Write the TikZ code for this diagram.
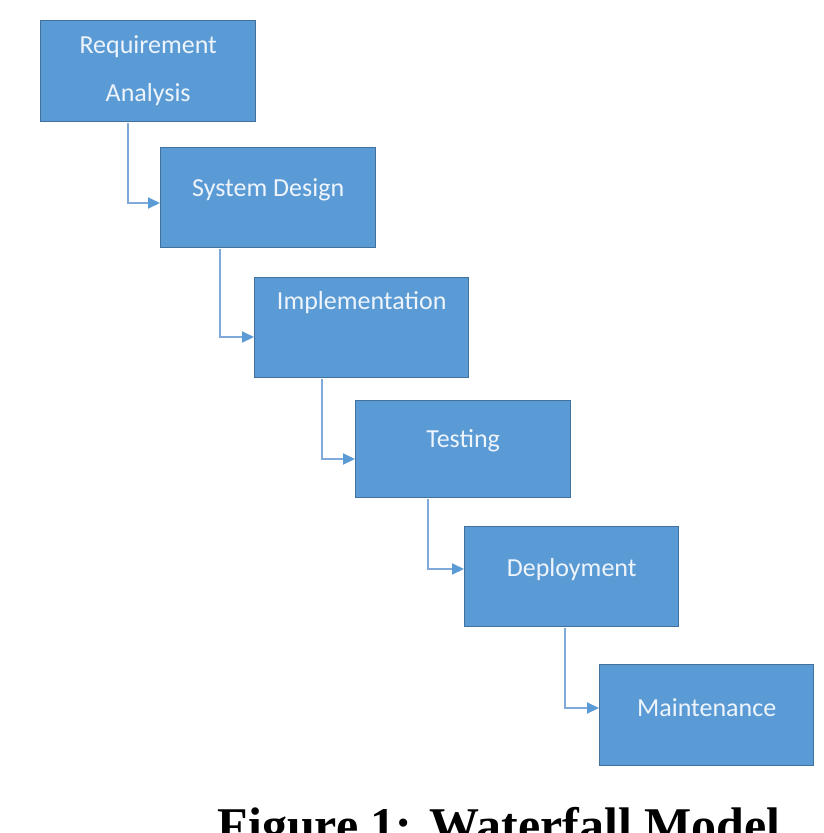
\documentclass[tikz,border=0pt]{standalone}
\usepackage{fontspec}
\setmainfont{Carlito}
\newfontfamily\capfont{Liberation Serif}
\usetikzlibrary{arrows.meta,calc}
\definecolor{boxfill}{HTML}{5B9BD5}
\definecolor{boxline}{HTML}{41719C}
\definecolor{connline}{HTML}{7FA9DA}
\definecolor{labeltext}{HTML}{EEF4FB}
\tikzset{
  stagebox/.style={draw=boxline, line width=1.4pt, fill=boxfill, inner sep=0pt, anchor=north west, text width=0pt},
  stagelabel/.style={text=labeltext, font=\fontsize{26}{48}\selectfont, inner sep=0pt, align=center},
  conn/.style={draw=connline, line width=2pt, -{Triangle[length=12pt,width=11pt,fill=boxfill,color=boxfill]}},
}
\begin{document}
\begin{tikzpicture}[x=1pt,y=-1pt]
\useasboundingbox (0,0) rectangle (823,833);
\clip (0,0) rectangle (823,833);
\fill[white] (0,0) rectangle (823,833);
% boxes
\node[stagebox, minimum width=215pt, minimum height=101pt] (b1) at (40,20) {};
\node[stagebox, minimum width=215pt, minimum height=100pt] (b2) at (160,147) {};
\node[stagebox, minimum width=214pt, minimum height=100pt] (b3) at (254,277) {};
\node[stagebox, minimum width=215pt, minimum height=97pt] (b4) at (355,400) {};
\node[stagebox, minimum width=214pt, minimum height=100pt] (b5) at (464,526) {};
\node[stagebox, minimum width=214pt, minimum height=101pt] (b6) at (599,664) {};
% labels
\node[stagelabel] (t1a) at ([yshift=-27pt]b1.north) {Requirement};
\node[stagelabel] (t1b) at ([yshift=-75pt]b1.north) {Analysis};
\node[stagelabel] (t2) at ([yshift=-43pt]b2.north) {System Design};
\node[stagelabel] (t3) at ([yshift=-26pt]b3.north) {Implementation};
\node[stagelabel] (t4) at ([yshift=-41pt]b4.north) {Testing};
\node[stagelabel] (t5) at ([yshift=-44pt]b5.north) {Deployment};
\node[stagelabel] (t6) at ([yshift=-44pt]b6.north) {Maintenance};
% connectors
\draw[conn] ([xshift=88pt,yshift=-1pt]b1.south west) |- ([yshift=-56pt]b2.north west);
\draw[conn] ([xshift=60pt,yshift=-1pt]b2.south west) |- ([yshift=-60pt]b3.north west);
\draw[conn] ([xshift=68pt,yshift=-1pt]b3.south west) |- ([yshift=-59pt]b4.north west);
\draw[conn] ([xshift=73pt,yshift=-1pt]b4.south west) |- ([yshift=-43pt]b5.north west);
\draw[conn] ([xshift=101pt,yshift=-1pt]b5.south west) |- ([yshift=-44pt]b6.north west);
% caption (cut off at the bottom edge)
\node[font=\capfont\bfseries\fontsize{50}{60}\selectfont, anchor=base, inner sep=0pt] (cap) at (499,842) {Figure 1: Waterfall Model};
\end{tikzpicture}
\end{document}
